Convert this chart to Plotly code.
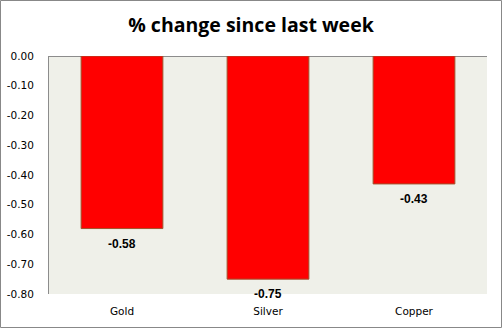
import plotly.graph_objects as go

# Weekly percentage change per metal
metals = ["Gold", "Silver", "Copper"]
pct_change = [-0.58, -0.75, -0.43]
tick_vals = [0.0, -0.1, -0.2, -0.3, -0.4, -0.5, -0.6, -0.7, -0.8]
tick_text = ["0.00", "-0.10", "-0.20", "-0.30", "-0.40", "-0.50", "-0.60", "-0.70", "-0.80"]

W, H = 502, 328
ml, mr, mt, mb = 49, 15, 56, 34
pw, ph = W - ml - mr, H - mt - mb

fig = go.Figure(
    go.Bar(
        x=metals,
        y=pct_change,
        width=0.56,
        marker=dict(color="#FF0000", line=dict(color="#A0522D", width=1)),
        cliponaxis=False,
        hoverinfo="x+y",
    )
)

# Value labels placed just below the end of each bar
for name, v in zip(metals, pct_change):
    fig.add_annotation(
        x=name,
        y=v,
        text=f"<b>{v:.2f}</b>",
        showarrow=False,
        yanchor="middle",
        yshift=-15,
        font=dict(family="Liberation Sans", size=12, color="#000000"),
    )

fig.update_layout(
    width=W,
    height=H,
    margin=dict(l=ml, r=mr, t=mt, b=mb),
    paper_bgcolor="#FFFFFF",
    plot_bgcolor="#EFF0E9",
    showlegend=False,
    title=dict(
        text="<b>% change since last week</b>",
        x=0.5,
        xanchor="center",
        y=1 - 25 / H,
        yanchor="middle",
        font=dict(family="Open Sans", size=19.5, color="#000000"),
        automargin=False,
    ),
    xaxis=dict(
        showgrid=False,
        showline=False,
        ticks="",
        automargin=False,
        tickfont=dict(family="DejaVu Sans", size=10.5, color="#000000"),
        ticklabelstandoff=9,
    ),
    yaxis=dict(
        range=[-0.8, 0.0],
        tickvals=tick_vals,
        ticktext=tick_text,
        showgrid=False,
        zeroline=True,
        zerolinecolor="#8C8C8C",
        zerolinewidth=1,
        showline=True,
        linecolor="#8C8C8C",
        linewidth=1,
        ticks="",
        automargin=False,
        tickfont=dict(family="DejaVu Sans", size=10.5, color="#000000"),
        ticklabelstandoff=12,
    ),
)

# Outer frame around the whole chart
fig.add_shape(
    type="rect",
    xref="paper",
    yref="paper",
    x0=-(ml - 0.5) / pw,
    x1=1 + (mr - 0.5) / pw,
    y0=-(mb - 0.5) / ph,
    y1=1 + (mt - 0.5) / ph,
    line=dict(color="#888888", width=1),
    fillcolor="rgba(0,0,0,0)",
    layer="above",
)

fig.write_html("out.html")
